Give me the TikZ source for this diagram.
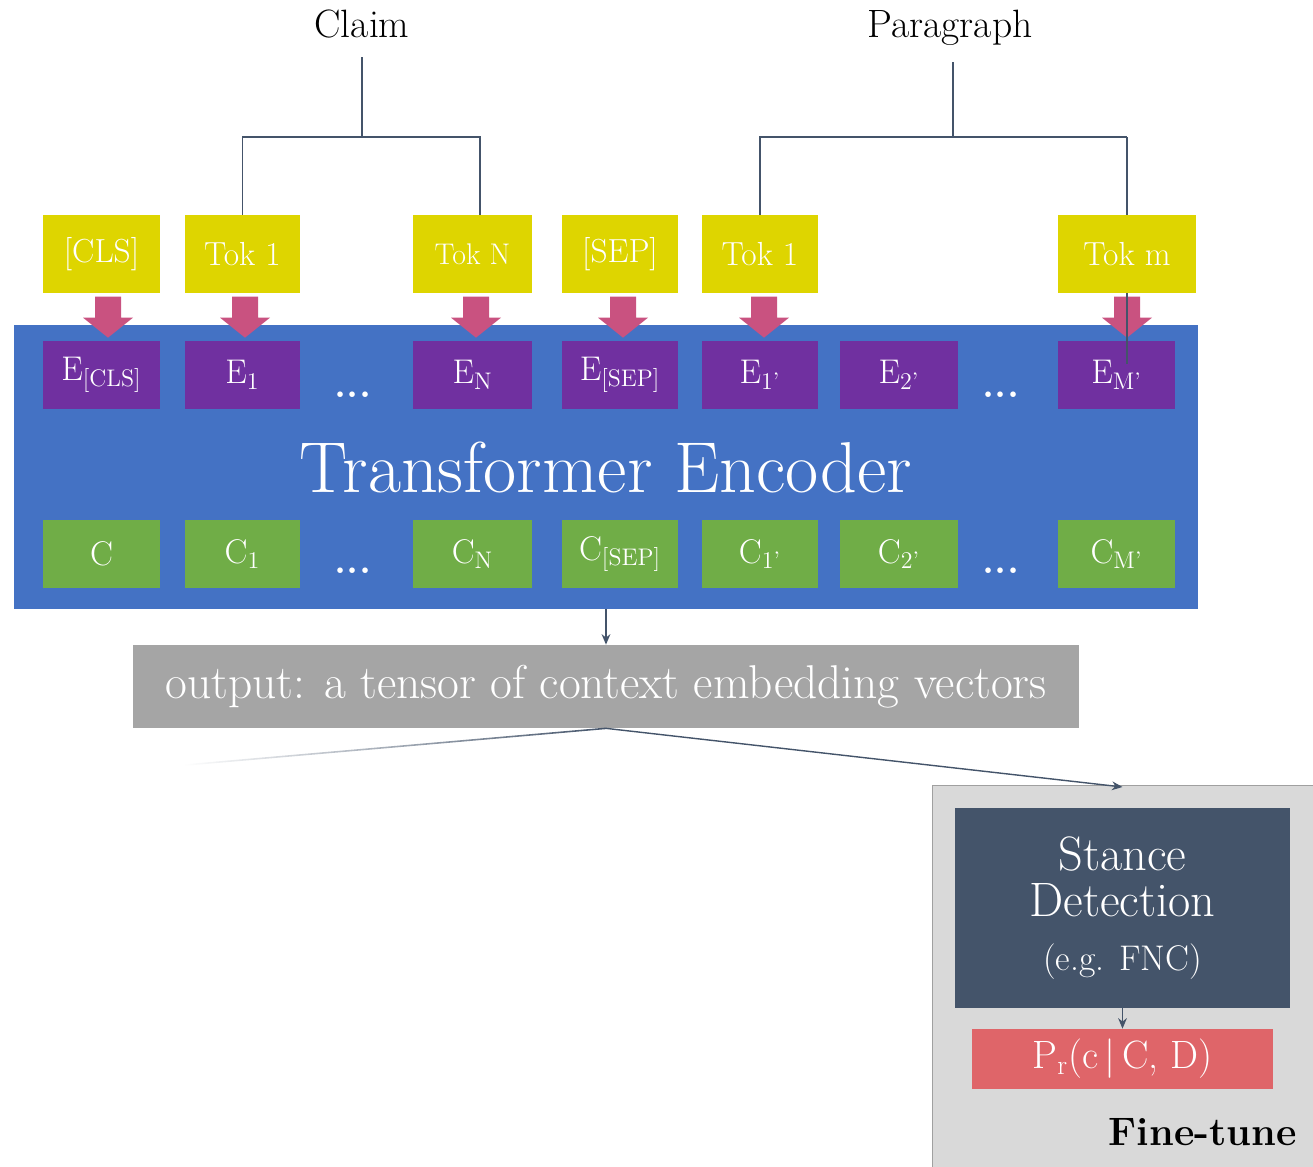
\documentclass[tikz,border=0pt]{standalone}
\usepackage{fontspec}
\usetikzlibrary{calc,arrows.meta,fadings}
\definecolor{yel}{RGB}{222,213,0}
\definecolor{apink}{RGB}{201,82,128}
\definecolor{encblue}{RGB}{68,114,196}
\definecolor{purp}{RGB}{112,48,160}
\definecolor{grn}{RGB}{112,173,71}
\definecolor{outgray}{RGB}{165,165,165}
\definecolor{slate}{RGB}{68,84,106}
\definecolor{ftbg}{RGB}{217,217,217}
\definecolor{ftborder}{RGB}{160,160,160}
\definecolor{prred}{RGB}{223,101,105}
\newcommand\parrow[2]{\fill[apink] ($(#1.north)+(#2-13,-44)$) -- ++(26,0) -- ++(0,21) -- ++(12,0) -- ++(-25,20) -- ++(-25,-20) -- ++(12,0) -- cycle;}
\begin{document}
\begin{tikzpicture}[x=0.02cm,y=-0.02cm,
  lbl/.style={inner sep=0, font=\fontsize{22.5}{24}\selectfont},
  tokbox/.style={fill=yel, text=white, minimum height=1.56cm, inner sep=0, font=\fontsize{19}{21}\selectfont},
  embbox/.style={fill=purp, text=white, minimum height=1.36cm, inner sep=0, font=\fontsize{19.5}{21}\selectfont},
  ctxbox/.style={fill=grn, text=white, minimum height=1.36cm, inner sep=0, font=\fontsize{19.5}{21}\selectfont},
  dotslbl/.style={text=white, inner sep=0, font=\fontsize{22}{24}\selectfont\bfseries},
  tree/.style={draw=slate, line width=1.1pt},
  conn/.style={draw=slate, line width=0.8pt, -{Stealth[length=6pt,width=5pt]}}
]
\useasboundingbox (0,0) rectangle (1313,1167);
% top labels
\node[lbl, anchor=base] (claim) at (362,37) {Claim};
\node[lbl, anchor=base] (para) at (950,37) {Paragraph};
% encoder
\node[fill=encblue, text=white, minimum width=23.68cm, minimum height=5.68cm, inner sep=0,
      font=\fontsize{41}{44}\selectfont] (enc) at (606,467) {Transformer Encoder};
% embeddings
\node[embbox, minimum width=2.34cm] (ecls) at (101.5,375) {E\textsubscript{[CLS]}};
\node[embbox, minimum width=2.30cm] (e1) at (242.5,375) {E\textsubscript{1}};
\node[embbox, minimum width=2.38cm] (eN) at (472.5,375) {E\textsubscript{N}};
\node[embbox, minimum width=2.32cm] (esep) at (620,375) {E\textsubscript{[SEP]}};
\node[embbox, minimum width=2.32cm] (e1p) at (760,375) {E\textsubscript{1’}};
\node[embbox, minimum width=2.36cm] (e2p) at (899,375) {E\textsubscript{2’}};
\node[embbox, minimum width=2.34cm] (eMp) at (1116.5,375) {E\textsubscript{M’}};
% contexts
\node[ctxbox, minimum width=2.34cm] (ccls) at (101.5,554) {C};
\node[ctxbox, minimum width=2.30cm] (c1) at (242.5,554) {C\textsubscript{1}};
\node[ctxbox, minimum width=2.38cm] (cN) at (472.5,554) {C\textsubscript{N}};
\node[ctxbox, minimum width=2.32cm] (csep) at (620,554) {C\textsubscript{[SEP]}};
\node[ctxbox, minimum width=2.32cm] (c1p) at (760,554) {C\textsubscript{1’}};
\node[ctxbox, minimum width=2.36cm] (c2p) at (899,554) {C\textsubscript{2’}};
\node[ctxbox, minimum width=2.34cm] (cMp) at (1116.5,554) {C\textsubscript{M’}};
% dots
\node[dotslbl, anchor=base] (d1) at (353,397) {...};
\node[dotslbl, anchor=base] (d2) at (1001,397) {...};
\node[dotslbl, anchor=base] (d3) at (353,573) {...};
\node[dotslbl, anchor=base] (d4) at (1001,573) {...};
% pink block arrows
\parrow{ecls}{6.5}
\parrow{e1}{2.5}
\parrow{eN}{3.5}
\parrow{esep}{3}
\parrow{e1p}{4}
\parrow{eMp}{10.5}
% line through Tok m (behind its box)
\coordinate (pj) at (953,137);
\coordinate (mcorner) at (1127,137);
\coordinate (mend) at (1127,364);
\draw[tree] (mcorner) -- (mend);
% tokens
\node[tokbox, minimum width=2.34cm] (cls) at (101.5,254) {[CLS]};
\node[tokbox, minimum width=2.30cm] (tok1) at (242.5,254) {Tok 1};
\node[tokbox, minimum width=2.38cm, font=\fontsize{17}{19}\selectfont] (tokN) at (472.5,254) {Tok N};
\node[tokbox, minimum width=2.32cm] (sep) at (620,254) {[SEP]};
\node[tokbox, minimum width=2.32cm] (tok1p) at (760,254) {Tok 1};
\node[tokbox, minimum width=2.76cm] (tokm) at (1127,254) {Tok m};
% trees
\coordinate (ctop) at (362,57);
\coordinate (cj) at (362,137);
\coordinate (ptop) at (953,62);
\draw[tree] (ctop) -- (cj);
\draw[tree] (tok1.north) |- (cj) -| ($(tokN.north)+(7.5,0)$);
\draw[tree] (ptop) -- (pj);
\draw[tree] (tok1p.north) |- (mcorner);
% output
\node[fill=outgray, text=white, minimum width=18.92cm, minimum height=1.66cm, inner sep=0,
      font=\fontsize{27}{29}\selectfont] (out) at (606,686.5) {output: a tensor of context embedding vectors};
\draw[conn] (enc.south) -- (out.north);
% fine-tune
\node[fill=ftbg, draw=ftborder, line width=0.6pt, minimum width=7.7cm, minimum height=7.7cm, inner sep=0] (ft) at (1124.5,978) {};
\node[fill=slate, text=white, minimum width=6.7cm, minimum height=4cm, inner sep=0, align=center,
      font=\fontsize{27.5}{26.7}\selectfont] (sd) at (1122.5,908) {Stance\\Detection\\[4pt]{\fontsize{20.3}{21}\selectfont (e.g. FNC)}};
\node[fill=prred, text=white, minimum width=6.02cm, minimum height=1.2cm, inner sep=0,
      font=\fontsize{22.5}{24}\selectfont] (pr) at (1122.5,1059) {P\textsubscript{r}(c\,|\,C, D)};
\node[anchor=base east, inner sep=0, font=\fontsize{22.6}{24}\selectfont\bfseries] (ftl) at (1297,1145) {Fine-tune};
\coordinate (fade) at (185,765);
\draw[slate, line width=0.9pt, path fading=west] (out.south) -- (fade);
\draw[conn] (out.south) -- (1122.5,787);
\draw[conn] (sd.south) -- (pr.north);
\end{tikzpicture}
\end{document}
